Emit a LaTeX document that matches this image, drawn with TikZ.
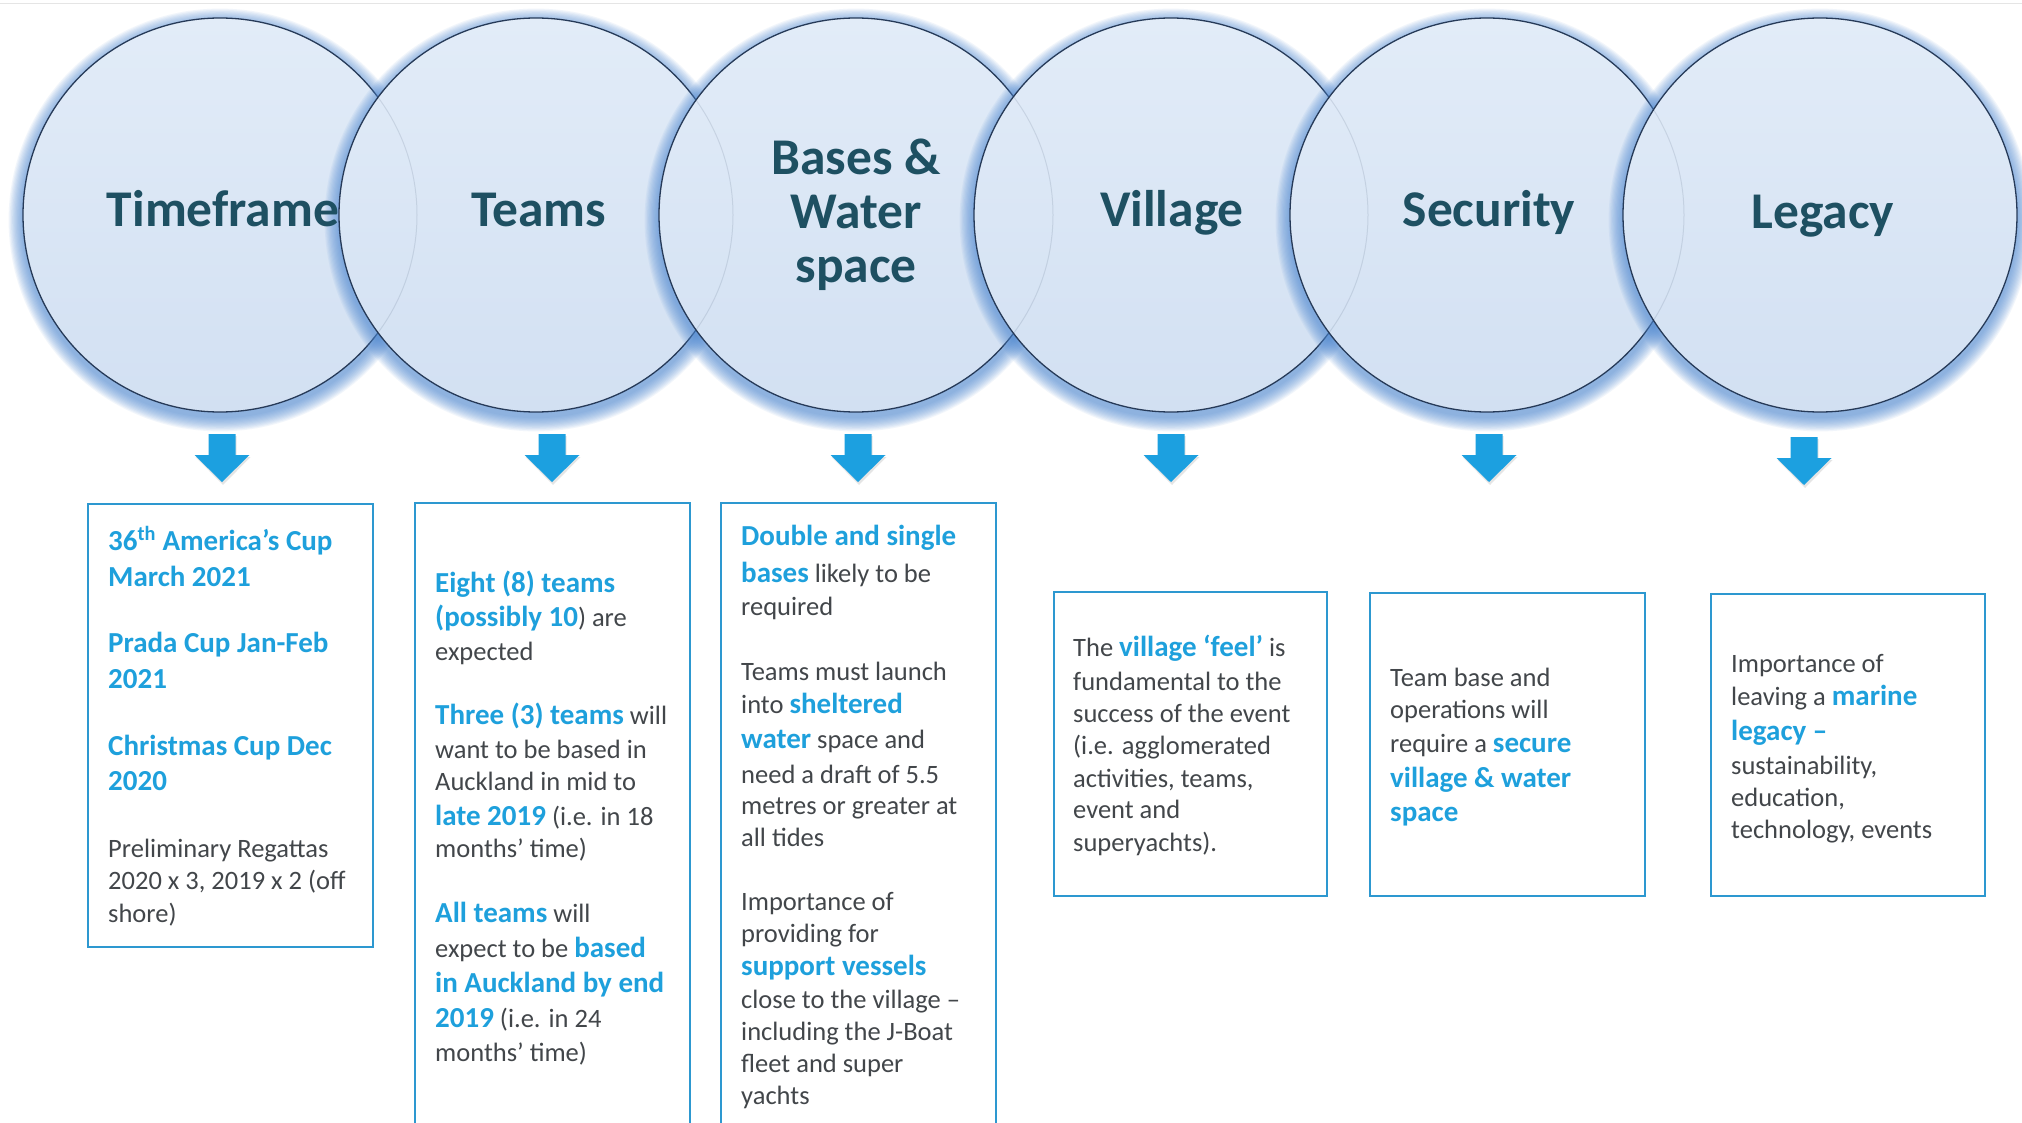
\documentclass[tikz,border=0pt]{standalone}
\usepackage{fontspec}
\setmainfont{Carlito}
\definecolor{ttlcol}{RGB}{30,80,98}
\definecolor{hlblue}{RGB}{30,160,220}
\definecolor{txtgray}{RGB}{66,70,74}
\definecolor{boxblue}{RGB}{45,152,208}
\definecolor{arrblue}{RGB}{28,160,224}
\definecolor{glowblue}{RGB}{80,138,212}
\definecolor{ringcol}{RGB}{38,58,88}
\definecolor{ctop}{RGB}{226,236,248}
\definecolor{cbot}{RGB}{210,224,242}
\newcommand\hlt[1]{{\fontsize{29}{32}\selectfont\bfseries\color{hlblue}#1}}
\begin{document}
\begin{tikzpicture}[x=1pt,y=-1pt,
  bubble/.style={circle, minimum size=394pt, inner sep=0pt, draw=ringcol, line width=1.3pt, top color=ctop, bottom color=cbot},
  ttl/.style={inner sep=0pt, text=ttlcol, font=\fontsize{51.5}{54}\selectfont\bfseries, align=center},
  ln/.style={anchor=base west, inner sep=0pt, text=txtgray, font=\fontsize{26.5}{32}\selectfont},
  boxline/.style={draw=boxblue, line width=2.6pt},
  arr/.style={fill=arrblue}]
\useasboundingbox (0,0) rectangle (2022,1123);
\clip (0,0) rectangle (2022,1123);
\fill[white] (0,0) rectangle (2022,1123);
\draw[black!10, line width=1pt] (0,4) -- (2022,4);

% circles with glow
\foreach \n/\cx in {1/220,2/536,3/856,4/1171,5/1487,6/1820}{
  \foreach \i in {1,...,12}{
    \fill[glowblue, opacity=0.08] (\cx,220) circle [radius={197pt+1.2pt*\i}];
  }
  \node[bubble] (c\n) at (\cx,215) {};
}
\foreach \a/\b in {1/2,2/3,3/4,4/5,5/6}{
  \begin{scope}
    \clip (c\b) circle [radius=197pt];
    \draw[ringcol, opacity=0.12, line width=1pt] (c\a) circle [radius=197pt];
  \end{scope}
}

% titles
\node[ttl, anchor=base] (t1) at (223,227) {Timeframe};
\node[ttl, anchor=base] (t2) at (539,227) {Teams};
\node[ttl, anchor=center] (t3) at (856,215.25) {Bases \&\\Water\\space};
\node[ttl, anchor=base] (t4) at (1172,227) {Village};
\node[ttl, anchor=base] (t5) at (1489,227) {Security};
\node[ttl, anchor=base] (t6) at (1823,229) {Legacy};

% arrows
\foreach \ax/\ay in {222/434, 552/434, 858/434, 1171/434, 1489/434, 1804/437}{
  \fill[black, opacity=0.10] (\ax-12.5,\ay+2) -- (\ax+14.5,\ay+2) -- (\ax+14.5,\ay+23) -- (\ax+28.5,\ay+23) -- (\ax+1,\ay+51) -- (\ax-26.5,\ay+23) -- (\ax-12.5,\ay+23) -- cycle;
  \fill[arr] (\ax-13.5,\ay) -- (\ax+13.5,\ay) -- (\ax+13.5,\ay+21) -- (\ax+27.5,\ay+21) -- (\ax,\ay+48) -- (\ax-27.5,\ay+21) -- (\ax-13.5,\ay+21) -- cycle;
}

% boxes
\draw[boxline] (88,504) rectangle (373,947);
\draw[boxline] (415,503) rectangle (690,1150);
\draw[boxline] (721,503) rectangle (996,1150);
\draw[boxline] (1054,592) rectangle (1327,896);
\draw[boxline] (1370,593) rectangle (1645,896);
\draw[boxline] (1711,594) rectangle (1985,896);

% box 1
\node[ln] (a1) at (108,550) {\hlt{36\textsuperscript{th} America’s Cup}};
\node[ln] (a2) at (108,586) {\hlt{March 2021}};
\node[ln] (a3) at (108,652) {\hlt{Prada Cup Jan-Feb}};
\node[ln] (a4) at (108,688) {\hlt{2021}};
\node[ln] (a5) at (108,755) {\hlt{Christmas Cup Dec}};
\node[ln] (a6) at (108,790) {\hlt{2020}};
\node[ln] (a7) at (108,857) {Preliminary Regattas};
\node[ln] (a8) at (108,889) {2020 x 3, 2019 x 2 (off};
\node[ln] (a9) at (108,922) {shore)};

% box 2
\node[ln] (b1) at (435,592) {\hlt{Eight (8) teams}};
\node[ln] (b2) at (435,626) {\hlt{(possibly 10}) are};
\node[ln] (b3) at (435,660) {expected};
\node[ln] (b4) at (435,724) {\hlt{Three (3) teams} will};
\node[ln] (b5) at (435,758) {want to be based in};
\node[ln] (b6) at (435,790) {Auckland in mid to};
\node[ln] (b7) at (435,825) {\hlt{late 2019} (i.e. in 18};
\node[ln] (b8) at (435,857) {months’ time)};
\node[ln] (b9) at (435,922) {\hlt{All teams} will};
\node[ln] (b10) at (435,957) {expect to be \hlt{based}};
\node[ln] (b11) at (435,992) {\hlt{in Auckland by end}};
\node[ln] (b12) at (435,1027) {\hlt{2019} (i.e. in 24};
\node[ln] (b13) at (435,1061) {months’ time)};

% box 3
\node[ln] (d1) at (741,545) {\hlt{Double and single}};
\node[ln] (d2) at (741,582) {\hlt{bases} likely to be};
\node[ln] (d3) at (741,615) {required};
\node[ln] (d4) at (741,680) {Teams must launch};
\node[ln] (d5) at (741,713) {into \hlt{sheltered}};
\node[ln] (d6) at (741,748) {\hlt{water} space and};
\node[ln] (d7) at (741,783) {need a draft of 5.5};
\node[ln] (d8) at (741,814) {metres or greater at};
\node[ln] (d9) at (741,846) {all tides};
\node[ln] (d10) at (741,910) {Importance of};
\node[ln] (d11) at (741,942) {providing for};
\node[ln] (d12) at (741,975) {\hlt{support vessels}};
\node[ln] (d13) at (741,1008) {close to the village –};
\node[ln] (d14) at (741,1040) {including the J-Boat};
\node[ln] (d15) at (741,1072) {fleet and super};
\node[ln] (d16) at (741,1104) {yachts};

% box 4
\node[ln] (e1) at (1073,656) {The \hlt{village ‘feel’} is};
\node[ln] (e2) at (1073,690) {fundamental to the};
\node[ln] (e3) at (1073,722) {success of the event};
\node[ln] (e4) at (1073,754) {(i.e. agglomerated};
\node[ln] (e5) at (1073,787) {activities, teams,};
\node[ln] (e6) at (1073,818) {event and};
\node[ln] (e7) at (1073,851) {superyachts).};

% box 5
\node[ln] (f1) at (1390,686) {Team base and};
\node[ln] (f2) at (1390,718) {operations will};
\node[ln] (f3) at (1390,752) {require a \hlt{secure}};
\node[ln] (f4) at (1390,787) {\hlt{village \& water}};
\node[ln] (f5) at (1390,821) {\hlt{space}};

% box 6
\node[ln] (g1) at (1731,672) {Importance of};
\node[ln] (g2) at (1731,705) {leaving a \hlt{marine}};
\node[ln] (g3) at (1731,740) {\hlt{legacy –}};
\node[ln] (g4) at (1731,774) {sustainability,};
\node[ln] (g5) at (1731,806) {education,};
\node[ln] (g6) at (1731,838) {technology, events};
\end{tikzpicture}
\end{document}
